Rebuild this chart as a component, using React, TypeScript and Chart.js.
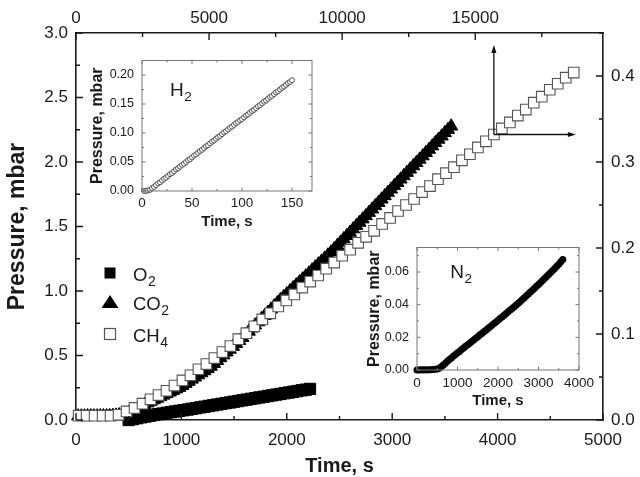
import React, { useEffect, useRef } from 'react';
import { Chart, registerables } from 'chart.js';

Chart.register(...registerables);

const FONT = "'Liberation Sans', Arial, Helvetica, sans-serif";

// ---------- main chart data ----------
const o2Time = [500, 540, 580, 620, 660, 700, 740, 780, 820, 860, 900, 940, 980, 1020, 1060, 1100, 1140, 1180, 1220, 1260, 1300, 1340, 1380, 1420, 1460, 1500, 1540, 1580, 1620, 1660, 1700, 1740, 1780, 1820, 1860, 1900, 1940, 1980, 2020, 2060, 2100, 2140, 2180, 2220];
const o2Pressure = [0.0, 0.007, 0.014, 0.021, 0.027, 0.033, 0.039, 0.045, 0.05, 0.056, 0.061, 0.066, 0.071, 0.076, 0.081, 0.087, 0.092, 0.098, 0.103, 0.109, 0.114, 0.12, 0.125, 0.131, 0.136, 0.142, 0.147, 0.153, 0.158, 0.164, 0.169, 0.175, 0.18, 0.186, 0.191, 0.197, 0.202, 0.208, 0.213, 0.219, 0.224, 0.23, 0.235, 0.241];

const co2Time = [20, 50, 80, 110, 140, 170, 200, 230, 260, 290, 320, 350, 380, 410, 440, 470, 500, 530, 560, 590, 620, 650, 680, 710, 740, 770, 800, 830, 860, 890, 920, 950, 980, 1010, 1040, 1070, 1100, 1130, 1160, 1190, 1220, 1250, 1280, 1310, 1340, 1370, 1400, 1430, 1460, 1490, 1520, 1550, 1580, 1610, 1640, 1670, 1700, 1730, 1760, 1790, 1820, 1850, 1880, 1910, 1940, 1970, 2000, 2030, 2060, 2090, 2120, 2150, 2180, 2210, 2240, 2270, 2300, 2330, 2360, 2390, 2420, 2450, 2480, 2510, 2540, 2570, 2600, 2630, 2660, 2690, 2720, 2750, 2780, 2810, 2840, 2870, 2900, 2930, 2960, 2990, 3020, 3050, 3080, 3110, 3140, 3170, 3200, 3230, 3260, 3290, 3320, 3350, 3380, 3410, 3440, 3470, 3500, 3530, 3560];
const co2Pressure = [0.03, 0.03, 0.03, 0.031, 0.031, 0.03, 0.03, 0.031, 0.031, 0.031, 0.032, 0.034, 0.036, 0.039, 0.042, 0.048, 0.055, 0.067, 0.08, 0.092, 0.105, 0.118, 0.131, 0.143, 0.155, 0.167, 0.179, 0.191, 0.203, 0.215, 0.227, 0.239, 0.251, 0.266, 0.282, 0.298, 0.315, 0.331, 0.348, 0.364, 0.38, 0.397, 0.415, 0.437, 0.459, 0.481, 0.503, 0.525, 0.547, 0.569, 0.591, 0.614, 0.637, 0.662, 0.687, 0.711, 0.735, 0.759, 0.784, 0.808, 0.833, 0.858, 0.883, 0.907, 0.932, 0.954, 0.977, 1.0, 1.023, 1.046, 1.069, 1.092, 1.115, 1.138, 1.161, 1.184, 1.208, 1.23, 1.253, 1.277, 1.301, 1.326, 1.352, 1.377, 1.403, 1.428, 1.454, 1.48, 1.506, 1.531, 1.557, 1.582, 1.608, 1.634, 1.66, 1.685, 1.711, 1.737, 1.763, 1.789, 1.815, 1.84, 1.866, 1.892, 1.918, 1.943, 1.969, 1.994, 2.02, 2.046, 2.072, 2.097, 2.123, 2.149, 2.175, 2.2, 2.226, 2.251, 2.277];

// CH4 is plotted against the top (time) and right (pressure) axes
const ch4Time = [100, 400, 700, 1000, 1300, 1600, 1900, 2200, 2500, 2800, 3100, 3400, 3700, 4000, 4300, 4600, 4900, 5200, 5500, 5800, 6100, 6400, 6700, 7000, 7300, 7600, 7900, 8200, 8500, 8800, 9100, 9400, 9700, 10000, 10300, 10600, 10900, 11200, 11500, 11800, 12100, 12400, 12700, 13000, 13300, 13600, 13900, 14200, 14500, 14800, 15100, 15400, 15700, 16000, 16300, 16600, 16900, 17200, 17500, 17800, 18100, 18400, 18700];
const ch4Pressure = [0.005, 0.005, 0.005, 0.005, 0.005, 0.006, 0.01, 0.014, 0.019, 0.024, 0.029, 0.034, 0.04, 0.046, 0.052, 0.059, 0.065, 0.072, 0.079, 0.086, 0.094, 0.101, 0.109, 0.117, 0.124, 0.132, 0.139, 0.146, 0.154, 0.161, 0.168, 0.176, 0.183, 0.191, 0.198, 0.206, 0.213, 0.22, 0.228, 0.235, 0.243, 0.25, 0.257, 0.265, 0.272, 0.28, 0.287, 0.294, 0.302, 0.309, 0.317, 0.324, 0.332, 0.339, 0.346, 0.354, 0.361, 0.369, 0.376, 0.384, 0.391, 0.398, 0.404];

// arrows start at this CH4 point and point to the axes it uses
const arrowPointIndex = 52;
const arrowUpTo = 0.436;
const arrowRightTo = 18780;

// ---------- inset data ----------
const h2Time = [2, 4, 6, 8, 10, 12, 14, 16, 18, 20, 22, 24, 26, 28, 30, 32, 34, 36, 38, 40, 42, 44, 46, 48, 50, 52, 54, 56, 58, 60, 62, 64, 66, 68, 70, 72, 74, 76, 78, 80, 82, 84, 86, 88, 90, 92, 94, 96, 98, 100, 102, 104, 106, 108, 110, 112, 114, 116, 118, 120, 122, 124, 126, 128, 130, 132, 134, 136, 138, 140, 142, 144, 146, 148, 150];
const h2Pressure = [0.0, 0.0, 0.001, 0.002, 0.005, 0.007, 0.01, 0.013, 0.015, 0.018, 0.021, 0.023, 0.026, 0.029, 0.031, 0.034, 0.037, 0.039, 0.042, 0.045, 0.047, 0.05, 0.053, 0.055, 0.058, 0.061, 0.063, 0.066, 0.069, 0.071, 0.074, 0.077, 0.079, 0.082, 0.085, 0.087, 0.09, 0.093, 0.095, 0.098, 0.101, 0.103, 0.106, 0.109, 0.111, 0.114, 0.117, 0.119, 0.122, 0.124, 0.127, 0.13, 0.132, 0.135, 0.138, 0.14, 0.143, 0.146, 0.148, 0.151, 0.154, 0.156, 0.159, 0.162, 0.164, 0.167, 0.17, 0.172, 0.175, 0.178, 0.18, 0.183, 0.186, 0.188, 0.191];

const n2Time = [0, 50, 100, 150, 200, 250, 300, 350, 400, 450, 500, 550, 600, 650, 700, 750, 800, 850, 900, 950, 1000, 1050, 1100, 1150, 1200, 1250, 1300, 1350, 1400, 1450, 1500, 1550, 1600, 1650, 1700, 1750, 1800, 1850, 1900, 1950, 2000, 2050, 2100, 2150, 2200, 2250, 2300, 2350, 2400, 2450, 2500, 2550, 2600, 2650, 2700, 2750, 2800, 2850, 2900, 2950, 3000, 3050, 3100, 3150, 3200, 3250, 3300, 3350, 3400, 3450, 3500, 3550, 3600];
const n2Pressure = [0.0, 0.0, 0.0001, 0.0, 0.0001, 0.0, 0.0001, 0.0002, 0.0003, 0.0004, 0.0006, 0.001, 0.002, 0.0031, 0.0042, 0.0053, 0.0064, 0.0074, 0.0085, 0.0095, 0.0105, 0.0114, 0.0125, 0.0135, 0.0145, 0.0155, 0.0164, 0.0175, 0.0184, 0.0194, 0.0204, 0.0214, 0.0224, 0.0234, 0.0244, 0.0254, 0.0264, 0.0274, 0.0284, 0.0294, 0.0304, 0.0315, 0.0325, 0.0335, 0.0346, 0.0356, 0.0367, 0.0377, 0.0388, 0.0398, 0.0409, 0.042, 0.0431, 0.0443, 0.0454, 0.0466, 0.0477, 0.0489, 0.05, 0.0512, 0.0524, 0.0536, 0.0548, 0.056, 0.0572, 0.0584, 0.0597, 0.0609, 0.0622, 0.0635, 0.0648, 0.0662, 0.0677];

// ---------- tick values ----------
const mainXTicks = [0, 1000, 2000, 3000, 4000, 5000];
const mainX2Ticks = [0, 5000, 10000, 15000];
const mainYTicks = [0, 0.5, 1.0, 1.5, 2.0, 2.5, 3.0];
const mainY2Ticks = [0, 0.1, 0.2, 0.3, 0.4];
const h2XTicks = [0, 50, 100, 150];
const h2YTicks = [0, 0.05, 0.1, 0.15, 0.2];
const n2XTicks = [0, 1000, 2000, 3000, 4000];
const n2YTicks = [0, 0.02, 0.04, 0.06];

const legendItems = [
  { base: 'O', sub: '2', marker: 'filledSquare' },
  { base: 'CO', sub: '2', marker: 'triangle' },
  { base: 'CH', sub: '4', marker: 'openSquare' },
];

type Side = 'top' | 'bottom' | 'left' | 'right';
type TickSpec = { id: string; major: number; minor: number; sides: Side[]; majorLen: number; minorLen: number; color: string; width: number };

const zip = (xs: number[], ys: number[]) => xs.map((x, i) => ({ x, y: ys[i] }));

function drawTicks(chart: any, specs: TickSpec[]) {
  const { ctx, chartArea: a } = chart;
  specs.forEach((s) => {
    const sc = chart.scales[s.id];
    const n = Math.floor((sc.max - sc.min) / s.minor + 1e-6);
    ctx.save();
    ctx.strokeStyle = s.color;
    ctx.lineWidth = s.width;
    ctx.beginPath();
    for (let i = 0; i <= n; i++) {
      const v = sc.min + i * s.minor;
      const r = v / s.major;
      const len = Math.abs(r - Math.round(r)) < 1e-6 ? s.majorLen : s.minorLen;
      const p = sc.getPixelForValue(v);
      s.sides.forEach((side) => {
        if (side === 'bottom') { ctx.moveTo(p, a.bottom); ctx.lineTo(p, a.bottom - len); }
        if (side === 'top') { ctx.moveTo(p, a.top); ctx.lineTo(p, a.top + len); }
        if (side === 'left') { ctx.moveTo(a.left, p); ctx.lineTo(a.left + len, p); }
        if (side === 'right') { ctx.moveTo(a.right, p); ctx.lineTo(a.right - len, p); }
      });
    }
    ctx.stroke();
    ctx.restore();
  });
}

function drawSubText(ctx: CanvasRenderingContext2D, x: number, y: number, base: string, sub: string, size: number, subSize: number, drop: number, color: string) {
  ctx.save();
  ctx.fillStyle = color;
  ctx.textAlign = 'left';
  ctx.textBaseline = 'alphabetic';
  ctx.font = `${size}px ${FONT}`;
  ctx.fillText(base, x, y);
  const w = ctx.measureText(base).width;
  ctx.font = `${subSize}px ${FONT}`;
  ctx.fillText(sub, x + w + 0.5, y + drop);
  ctx.restore();
}

function drawArrow(ctx: CanvasRenderingContext2D, x0: number, y0: number, x1: number, y1: number) {
  const ang = Math.atan2(y1 - y0, x1 - x0);
  const hl = 8;
  const hw = 2.6;
  ctx.beginPath();
  ctx.moveTo(x0, y0);
  ctx.lineTo(x1 - Math.cos(ang) * hl * 0.7, y1 - Math.sin(ang) * hl * 0.7);
  ctx.stroke();
  ctx.beginPath();
  ctx.moveTo(x1, y1);
  ctx.lineTo(x1 - Math.cos(ang) * hl - Math.sin(ang) * hw, y1 - Math.sin(ang) * hl + Math.cos(ang) * hw);
  ctx.lineTo(x1 - Math.cos(ang) * hl + Math.sin(ang) * hw, y1 - Math.sin(ang) * hl - Math.cos(ang) * hw);
  ctx.closePath();
  ctx.fill();
}

function tickFromArray(arr: number[]) {
  return (scale: any) => {
    scale.ticks = arr.map((v) => ({ value: v }));
  };
}

const TEXT = '#1a1a1a';

function axis(opts: any) {
  const { position, min, max, ticks, fmt, size, pad, fit, fitDim, title, border } = opts;
  return {
    type: 'linear',
    position,
    min,
    max,
    afterBuildTicks: tickFromArray(ticks),
    afterFit: (s: any) => {
      if (fitDim === 'w') s.width = fit; else s.height = fit;
    },
    grid: { display: false, drawTicks: false },
    border: border || { display: false },
    ticks: {
      autoSkip: false,
      maxRotation: 0,
      padding: pad,
      color: TEXT,
      font: { family: FONT, size },
      callback: (v: number) => fmt(v),
    },
    title: title || { display: false },
  };
}

export default function App() {
  const mainRef = useRef<HTMLCanvasElement>(null);
  const h2Ref = useRef<HTMLCanvasElement>(null);
  const n2Ref = useRef<HTMLCanvasElement>(null);

  useEffect(() => {
    const mainBorder = { display: true, color: '#1a1a1a', width: 1.6 };
    const mainPlugin = {
      id: 'mainDecor',
      afterDraw(chart: any) {
        const ctx: CanvasRenderingContext2D = chart.ctx;
        drawTicks(chart, [
          { id: 'x', major: 1000, minor: 500, sides: ['bottom'], majorLen: 7, minorLen: 4, color: '#1a1a1a', width: 1.4 },
          { id: 'x2', major: 5000, minor: 2500, sides: ['top'], majorLen: 7, minorLen: 4, color: '#1a1a1a', width: 1.4 },
          { id: 'y', major: 0.5, minor: 0.25, sides: ['left'], majorLen: 7, minorLen: 4, color: '#1a1a1a', width: 1.4 },
          { id: 'y2', major: 0.1, minor: 0.05, sides: ['right'], majorLen: 7, minorLen: 4, color: '#1a1a1a', width: 1.4 },
        ]);
        // arrows
        const x2 = chart.scales.x2;
        const y2 = chart.scales.y2;
        const px = x2.getPixelForValue(ch4Time[arrowPointIndex]);
        const py = y2.getPixelForValue(ch4Pressure[arrowPointIndex]);
        ctx.save();
        ctx.strokeStyle = '#111';
        ctx.fillStyle = '#111';
        ctx.lineWidth = 1.3;
        drawArrow(ctx, px, py, px, y2.getPixelForValue(arrowUpTo));
        drawArrow(ctx, px, py, x2.getPixelForValue(arrowRightTo), py);
        ctx.restore();
        // legend
        const rows = [273, 302, 334];
        legendItems.forEach((item, i) => {
          const cy = rows[i];
          const cx = 110;
          ctx.save();
          ctx.fillStyle = '#000';
          ctx.strokeStyle = '#000';
          if (item.marker === 'filledSquare') {
            ctx.fillRect(cx - 5.5, cy - 5.5, 11, 11);
          } else if (item.marker === 'triangle') {
            ctx.beginPath();
            ctx.moveTo(cx, cy - 7);
            ctx.lineTo(cx + 8.5, cy + 6);
            ctx.lineTo(cx - 8.5, cy + 6);
            ctx.closePath();
            ctx.fill();
          } else {
            ctx.fillStyle = '#fff';
            ctx.strokeStyle = '#555';
            ctx.lineWidth = 1.2;
            ctx.fillRect(cx - 5.5, cy - 5.5, 11, 11);
            ctx.strokeRect(cx - 5.5, cy - 5.5, 11, 11);
          }
          ctx.restore();
          drawSubText(ctx, 133, cy + 7.5, item.base, item.sub, 18.5, 14, 5, TEXT);
        });
      },
    };

    const main = new Chart(mainRef.current!, {
      type: 'scatter',
      data: {
        datasets: [
          {
            label: 'O2', data: zip(o2Time, o2Pressure), xAxisID: 'x', yAxisID: 'y', order: 2,
            pointStyle: 'rect', pointRadius: 8, backgroundColor: '#000', borderColor: '#000', borderWidth: 1,
          },
          {
            label: 'CO2', data: zip(co2Time, co2Pressure), xAxisID: 'x', yAxisID: 'y', order: 1,
            pointStyle: 'triangle', pointRadius: 7.5, backgroundColor: '#000', borderColor: '#000', borderWidth: 1,
          },
          {
            label: 'CH4', data: zip(ch4Time, ch4Pressure), xAxisID: 'x2', yAxisID: 'y2', order: 0,
            pointStyle: 'rect', pointRadius: 7.5, backgroundColor: '#fff', borderColor: '#555', borderWidth: 1.1,
          },
        ] as any,
      },
      options: {
        animation: false,
        responsive: false,
        events: [],
        clip: false as any,
        layout: { padding: 0 },
        plugins: { legend: { display: false }, tooltip: { enabled: false } },
        scales: {
          x: axis({
            position: 'bottom', min: 0, max: 5000, ticks: mainXTicks, fmt: (v: number) => String(v), size: 17, pad: 10, fit: 57, fitDim: 'h', border: mainBorder,
            title: { display: true, text: 'Time, s', color: TEXT, font: { family: FONT, size: 20, weight: 'bold', lineHeight: 1.1 }, padding: { top: 0, bottom: 0 } },
          }),
          x2: axis({ position: 'top', min: 0, max: 19800, ticks: mainX2Ticks, fmt: (v: number) => String(v), size: 17, pad: 4, fit: 33, fitDim: 'h', border: mainBorder }),
          y: axis({
            position: 'left', min: 0, max: 3.0, ticks: mainYTicks, fmt: (v: number) => v.toFixed(1), size: 17, pad: 8, fit: 76, fitDim: 'w', border: mainBorder,
            title: { display: true, text: 'Pressure, mbar', color: TEXT, font: { family: FONT, size: 23, weight: 'bold', lineHeight: 1.2 }, padding: { top: 4, bottom: 0 } },
          }),
          y2: axis({ position: 'right', min: 0, max: 0.45, ticks: mainY2Ticks, fmt: (v: number) => v.toFixed(1), size: 17, pad: 8, fit: 37, fitDim: 'w', border: mainBorder }),
        } as any,
      },
      plugins: [mainPlugin],
    });

    const insetPlugin = (id: string, xMajor: number, xMinor: number, yMajor: number, yMinor: number, label: { base: string; sub: string; x: number; y: number }) => ({
      id,
      afterDraw(chart: any) {
        const ctx: CanvasRenderingContext2D = chart.ctx;
        const a = chart.chartArea;
        ctx.save();
        ctx.strokeStyle = '#777';
        ctx.lineWidth = 1;
        ctx.strokeRect(a.left, a.top, a.right - a.left, a.bottom - a.top);
        ctx.restore();
        drawTicks(chart, [
          { id: 'x', major: xMajor, minor: xMinor, sides: ['bottom', 'top'], majorLen: 3.5, minorLen: 2, color: '#777', width: 1 },
          { id: 'y', major: yMajor, minor: yMinor, sides: ['left', 'right'], majorLen: 3.5, minorLen: 2, color: '#777', width: 1 },
        ]);
        const lx = chart.scales.x.getPixelForValue(label.x);
        const ly = chart.scales.y.getPixelForValue(label.y);
        drawSubText(ctx, lx, ly, label.base, label.sub, 19, 13.5, 5, TEXT);
      },
    });

    const insetConfig = (data: any, xOpts: any, yOpts: any, pad: any, plugin: any) => ({
      type: 'scatter',
      data: { datasets: [data] },
      options: {
        animation: false,
        responsive: false,
        events: [],
        clip: false,
        layout: { padding: pad },
        plugins: { legend: { display: false }, tooltip: { enabled: false } },
        scales: { x: axis(xOpts), y: axis(yOpts) },
      },
      plugins: [plugin],
    });

    const h2 = new Chart(h2Ref.current!, insetConfig(
      { label: 'H2', data: zip(h2Time, h2Pressure), pointStyle: 'circle', pointRadius: 2.5, backgroundColor: '#fff', borderColor: '#444', borderWidth: 0.9 },
      {
        position: 'bottom', min: 0, max: 170, ticks: h2XTicks, fmt: (v: number) => String(v), size: 13.5, pad: 4, fit: 44, fitDim: 'h',
        title: { display: true, text: 'Time, s', color: TEXT, font: { family: FONT, size: 15, weight: 'bold', lineHeight: 1.2 }, padding: { top: 0, bottom: 4 } },
      },
      {
        position: 'left', min: 0, max: 0.225, ticks: h2YTicks, fmt: (v: number) => v.toFixed(2), size: 12.5, pad: 8, fit: 57, fitDim: 'w',
        title: { display: true, text: 'Pressure, mbar', color: TEXT, font: { family: FONT, size: 16, weight: 'bold', lineHeight: 1.2 }, padding: { top: 3, bottom: 0 } },
      },
      { top: 10, right: 13, left: 0, bottom: 0 },
      insetPlugin('h2Decor', 50, 25, 0.05, 0.025, { base: 'H', sub: '2', x: 28, y: 0.163 }),
    ) as any);

    const n2 = new Chart(n2Ref.current!, insetConfig(
      { label: 'N2', data: zip(n2Time, n2Pressure), pointStyle: 'circle', pointRadius: 3.5, backgroundColor: '#000', borderColor: '#000', borderWidth: 0 },
      {
        position: 'bottom', min: 0, max: 4000, ticks: n2XTicks, fmt: (v: number) => String(v), size: 13.5, pad: 5, fit: 42, fitDim: 'h',
        title: { display: true, text: 'Time, s', color: TEXT, font: { family: FONT, size: 15, weight: 'bold', lineHeight: 1.2 }, padding: { top: 0, bottom: 2 } },
      },
      {
        position: 'left', min: 0, max: 0.075, ticks: n2YTicks, fmt: (v: number) => v.toFixed(2), size: 12.5, pad: 8, fit: 62, fitDim: 'w',
        title: { display: true, text: 'Pressure, mbar', color: TEXT, font: { family: FONT, size: 16, weight: 'bold', lineHeight: 1.2 }, padding: { top: 10, bottom: 0 } },
      },
      { top: 10, right: 21, left: 0, bottom: 0 },
      insetPlugin('n2Decor', 1000, 500, 0.02, 0.01, { base: 'N', sub: '2', x: 820, y: 0.0565 }),
    ) as any);

    return () => {
      main.destroy();
      h2.destroy();
      n2.destroy();
    };
  }, []);

  return (
    <div style={{ position: 'absolute', left: 0, top: 0, width: 640, height: 477, background: '#fff' }}>
      <canvas ref={mainRef} width={640} height={477} style={{ position: 'absolute', left: 0, top: 0, width: 640, height: 477 }} />
      <canvas ref={h2Ref} width={240} height={190} style={{ position: 'absolute', left: 85, top: 45, width: 240, height: 190 }} />
      <canvas ref={n2Ref} width={245} height={180} style={{ position: 'absolute', left: 355, top: 232, width: 245, height: 180 }} />
    </div>
  );
}
